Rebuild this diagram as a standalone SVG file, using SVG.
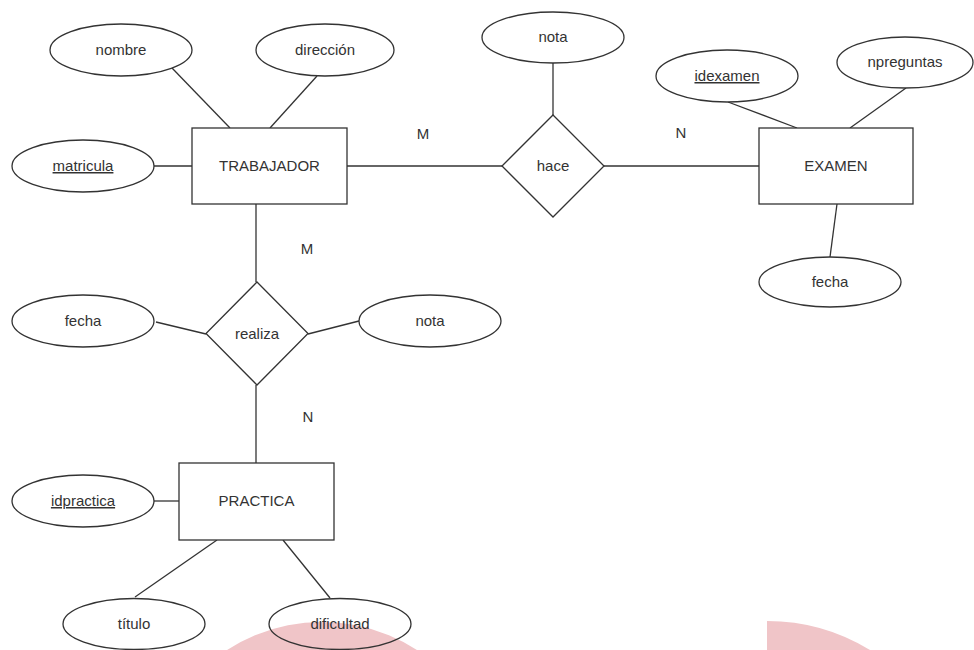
<svg xmlns="http://www.w3.org/2000/svg" width="974" height="650" viewBox="0 0 974 650">
<style>
.s{fill:#fff;stroke:#333;stroke-width:1.3}
.n{fill:none;stroke:#333;stroke-width:1.3}
.l{stroke:#333;stroke-width:1.3;fill:none}
text{font-family:"Liberation Sans",Arial,sans-serif;font-size:15px;fill:#333;text-anchor:middle}
.k{text-decoration:underline}
.p{fill:#f0c5c8;stroke:none}
</style>
<rect width="974" height="650" fill="#fff"/>
<g id="watermark">
<circle class="p" cx="322" cy="797" r="175"/>
<path class="p" d="M767,650 L767,621 A197,197 0 0 1 870,650 Z"/>
</g>
<g id="connectors">
<line class="l" x1="172" y1="68" x2="230" y2="128"/>
<line class="l" x1="317" y1="76" x2="270" y2="128"/>
<line class="l" x1="154" y1="166" x2="192" y2="166"/>
<line class="l" x1="347" y1="166" x2="502" y2="166"/>
<line class="l" x1="553" y1="63" x2="553" y2="115"/>
<line class="l" x1="604" y1="166" x2="759" y2="166"/>
<line class="l" x1="728" y1="102" x2="797" y2="128"/>
<line class="l" x1="906" y1="88" x2="850" y2="128"/>
<line class="l" x1="837" y1="204" x2="830" y2="257"/>
<line class="l" x1="256" y1="204" x2="256" y2="282"/>
<line class="l" x1="156" y1="322" x2="206" y2="334"/>
<line class="l" x1="308" y1="334" x2="359" y2="321"/>
<line class="l" x1="256" y1="385" x2="256" y2="463"/>
<line class="l" x1="154" y1="501" x2="179" y2="501"/>
<line class="l" x1="217" y1="540" x2="135" y2="597"/>
<line class="l" x1="283" y1="540" x2="330" y2="598"/>
<text x="423" y="139">M</text>
<text x="681" y="138">N</text>
<text x="307" y="254">M</text>
<text x="308" y="422">N</text>
</g>
<g id="trabajador"><rect class="s" x="192" y="128" width="155" height="76"/><text x="269.5" y="171">TRABAJADOR</text></g>
<g id="nombre"><ellipse class="s" cx="121" cy="50" rx="71" ry="26"/><text x="121" y="55">nombre</text></g>
<g id="direccion"><ellipse class="s" cx="325" cy="50" rx="69" ry="26"/><text x="325" y="55">dirección</text></g>
<g id="matricula"><ellipse class="s" cx="83" cy="166" rx="71" ry="26"/><text class="k" x="83" y="171">matricula</text></g>
<g id="hace"><polygon class="s" points="553,115 604,166 553,217 502,166"/><text x="553" y="171">hace</text></g>
<g id="nota1"><ellipse class="s" cx="553" cy="37.5" rx="71" ry="25.5"/><text x="553" y="42">nota</text></g>
<g id="examen"><rect class="s" x="759" y="128" width="154" height="76"/><text x="836" y="171">EXAMEN</text></g>
<g id="idexamen"><ellipse class="s" cx="727" cy="76" rx="71" ry="26"/><text class="k" x="727" y="81">idexamen</text></g>
<g id="npreguntas"><ellipse class="s" cx="905" cy="62.5" rx="68" ry="25.5"/><text x="905" y="67">npreguntas</text></g>
<g id="fecha1"><ellipse class="s" cx="830" cy="282" rx="71" ry="25"/><text x="830" y="287">fecha</text></g>
<g id="realiza"><polygon class="s" points="257,282 308,333.5 257,385 206,333.5"/><text x="257" y="339">realiza</text></g>
<g id="fecha2"><ellipse class="s" cx="83" cy="321" rx="71" ry="26"/><text x="83" y="326">fecha</text></g>
<g id="nota2"><ellipse class="s" cx="430" cy="321" rx="71" ry="26"/><text x="430" y="326">nota</text></g>
<g id="practica"><rect class="s" x="179" y="463" width="155" height="77"/><text x="256.5" y="506">PRACTICA</text></g>
<g id="idpractica"><ellipse class="s" cx="83" cy="501" rx="71" ry="26"/><text class="k" x="83" y="506">idpractica</text></g>
<g id="titulo"><ellipse class="s" cx="134" cy="624" rx="71" ry="25.5"/><text x="134" y="629">título</text></g>
<g id="dificultad"><ellipse class="n" cx="340" cy="624" rx="71" ry="25.5"/><text x="340" y="629">dificultad</text></g>
</svg>
